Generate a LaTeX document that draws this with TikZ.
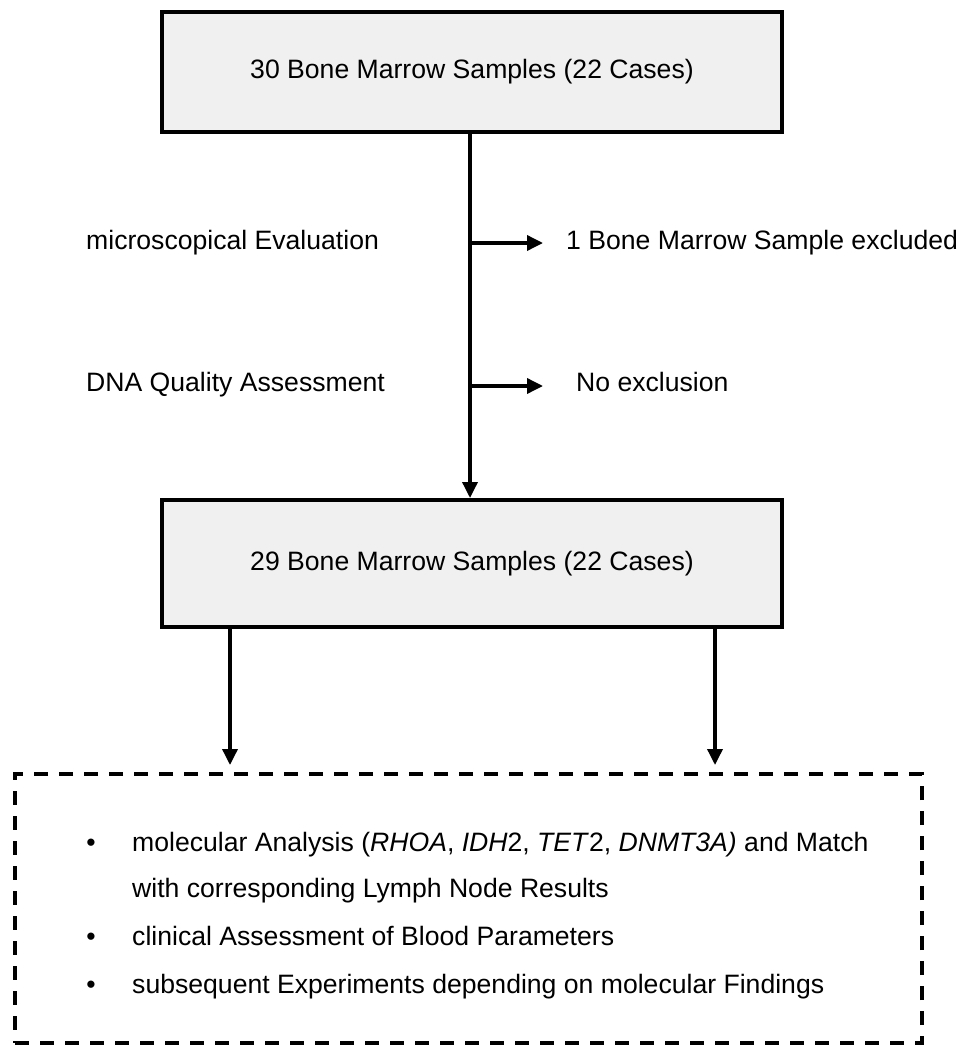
\documentclass[tikz,border=0pt]{standalone}
\usepackage{fontspec}
\setmainfont{Liberation Sans}
\usetikzlibrary{arrows.meta}
\definecolor{boxgray}{HTML}{F0F0F0}
\begin{document}
\begin{tikzpicture}[x=1pt,y=-1pt,
  font=\fontsize{26.6}{32}\selectfont,
  box/.style={draw=black, line width=4pt, fill=boxgray, minimum width=620pt, inner sep=0pt, outer sep=0pt},
  conn/.style={line width=3.5pt, -{Triangle[length=16pt,width=15pt]}},
  lbl/.style={anchor=base west, inner sep=0pt},
  bul/.style={anchor=base, inner sep=0pt},
  dashbox/.style={draw=black, line width=4pt, dash pattern=on 14pt off 11pt, inner sep=0pt, outer sep=0pt}]
\fill[white] (0,0) rectangle (963,1046);
\useasboundingbox (0,0) rectangle (963,1046);
% boxes
\node[box, minimum height=120pt] (top) at (472,72) {30 Bone Marrow Samples (22 Cases)};
\node[box, minimum height=127pt] (bot) at (472,563.5) {29 Bone Marrow Samples (22 Cases)};
\node[dashbox, minimum width=907pt, minimum height=269pt] (res) at (468.5,908.5) {};
% main connector
\coordinate (m1) at (470,134);
\coordinate (m2) at (470,498);
\draw[conn] (m1) -- (m2);
% side arrows
\coordinate (s1) at (470,243);
\coordinate (e1) at (543,243);
\coordinate (s2) at (470,386);
\coordinate (e2) at (543,386);
\draw[conn] (s1) -- (e1);
\draw[conn] (s2) -- (e2);
% labels
\node[lbl] (l1) at (86,249) {microscopical Evaluation};
\node[lbl] (r1) at (566,249) {1 Bone Marrow Sample excluded};
\node[lbl] (l2) at (86,391) {DNA Quality Assessment};
\node[lbl] (r2) at (576,391) {No exclusion};
% down arrows
\coordinate (d1s) at (230,629);
\coordinate (d1e) at (230,765);
\coordinate (d2s) at (715,629);
\coordinate (d2e) at (715,765);
\draw[conn] (d1s) -- (d1e);
\draw[conn] (d2s) -- (d2e);
% bullet list
\node[bul] (b1) at (91,851) {\textbullet};
\node[lbl] (t1) at (132,851) {molecular Analysis (\textit{RHOA}, \textit{IDH}2, \textit{TET}2, \textit{DNMT3A)} and Match};
\node[lbl] (t1b) at (132,897) {with corresponding Lymph Node Results};
\node[bul] (b2) at (91,945) {\textbullet};
\node[lbl] (t2) at (132,945) {clinical Assessment of Blood Parameters};
\node[bul] (b3) at (91,993) {\textbullet};
\node[lbl] (t3) at (132,993) {subsequent Experiments depending on molecular Findings};
\end{tikzpicture}
\end{document}
